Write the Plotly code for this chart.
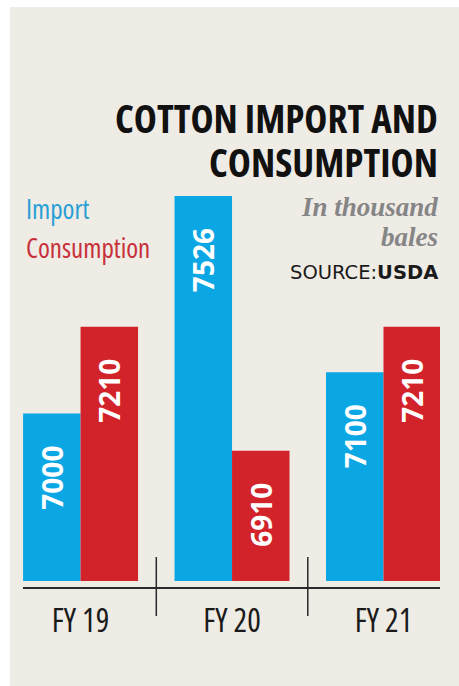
import plotly.graph_objects as go

categories = ["FY 19", "FY 20", "FY 21"]
import_vals = [7000, 7526, 7100]
consumption_vals = [7210, 6910, 7210]

BLUE = "#0ba6e4"
RED = "#d2232a"
BG = "#efebe5"
COND = "Open Sans, Roboto, sans-serif"

W, H = 459, 686
L, R, T, B = 23, 19, 196, 105
PH = H - T - B  # plot height in px


def py(ypx):
    return (H - B - ypx) / PH


def px(xpx):
    return (xpx - L) / (W - L - R)


def cond(s, stretch="condensed"):
    return f'<span style="font-stretch:{stretch}">{s}</span>'


pad = "\u00a0\u00a0\u00a0\u00a0"

fig = go.Figure()
for name, vals, color in [("Import", import_vals, BLUE), ("Consumption", consumption_vals, RED)]:
    fig.add_trace(go.Bar(
        name=name, x=categories, y=vals, marker=dict(color=color, line=dict(width=0)),
        text=[f"{v}" + pad for v in vals], texttemplate="%{text}",
        textposition="inside", insidetextanchor="end", textangle=-90,
        textfont=dict(family=COND, size=28, color="white", weight="bold"),
        cliponaxis=True,
    ))

shapes = [
    # card background
    dict(type="rect", xref="paper", yref="paper", x0=px(10), x1=px(470), y0=py(7), y1=py(700),
         fillcolor=BG, line=dict(width=0), layer="below"),
    # axis line
    dict(type="line", xref="paper", yref="paper", x0=0, x1=1, y0=py(588), y1=py(588),
         line=dict(color="#2a2a2a", width=2)),
]
for xsep in [0.5, 1.5]:
    shapes.append(dict(type="line", xref="x", yref="paper", x0=xsep, x1=xsep, y0=py(557), y1=py(616),
                       line=dict(color="#2a2a2a", width=1.5)))

annotations = [
    dict(text=cond("COTTON IMPORT AND"), x=px(440), y=py(117), xref="paper", yref="paper",
         xanchor="right", yanchor="middle", showarrow=False,
         font=dict(family=COND, size=39, color="#111111", weight="bold")),
    dict(text=cond("CONSUMPTION"), x=px(440), y=py(161), xref="paper", yref="paper",
         xanchor="right", yanchor="middle", showarrow=False,
         font=dict(family=COND, size=39, color="#111111", weight="bold")),
    dict(text=cond("Import"), x=px(24), y=py(208), xref="paper", yref="paper",
         xanchor="left", yanchor="middle", showarrow=False,
         font=dict(family=COND, size=27, color="#2a9fd6", weight=500)),
    dict(text=cond("Consumption"), x=px(24), y=py(247), xref="paper", yref="paper",
         xanchor="left", yanchor="middle", showarrow=False,
         font=dict(family=COND, size=27, color="#c8303a", weight=500)),
    dict(text="<b><i>In thousand</i></b>", x=px(440), y=py(207), xref="paper", yref="paper",
         xanchor="right", yanchor="middle", showarrow=False,
         font=dict(family="Liberation Serif, DejaVu Serif, serif", size=27, color="#858585")),
    dict(text="<b><i>bales</i></b>", x=px(440), y=py(237), xref="paper", yref="paper",
         xanchor="right", yanchor="middle", showarrow=False,
         font=dict(family="Liberation Serif, DejaVu Serif, serif", size=27, color="#858585")),
    dict(text="SOURCE:<b>USDA</b>", x=px(440), y=py(272), xref="paper", yref="paper",
         xanchor="right", yanchor="middle", showarrow=False,
         font=dict(family="DejaVu Sans, Verdana, sans-serif", size=19.5, color="#1a1a1a")),
]

fig.update_layout(
    width=W, height=H,
    margin=dict(l=L, r=R, t=T, b=B, pad=0),
    paper_bgcolor="white", plot_bgcolor="rgba(0,0,0,0)",
    barmode="group", bargap=0.241, bargroupgap=0,
    showlegend=False,
    shapes=shapes, annotations=annotations,
    xaxis=dict(type="category", range=[-0.38, 2.373], showgrid=False, zeroline=False,
               showline=False, ticks="", ticklabelstandoff=18,
               tickvals=categories, ticktext=[cond(c) for c in categories],
               tickfont=dict(family=COND, size=32, color="#1a1a1a", weight=500)),
    yaxis=dict(range=[6595, 7526], visible=False, showgrid=False, zeroline=False),
)

fig.write_html("out.html")
